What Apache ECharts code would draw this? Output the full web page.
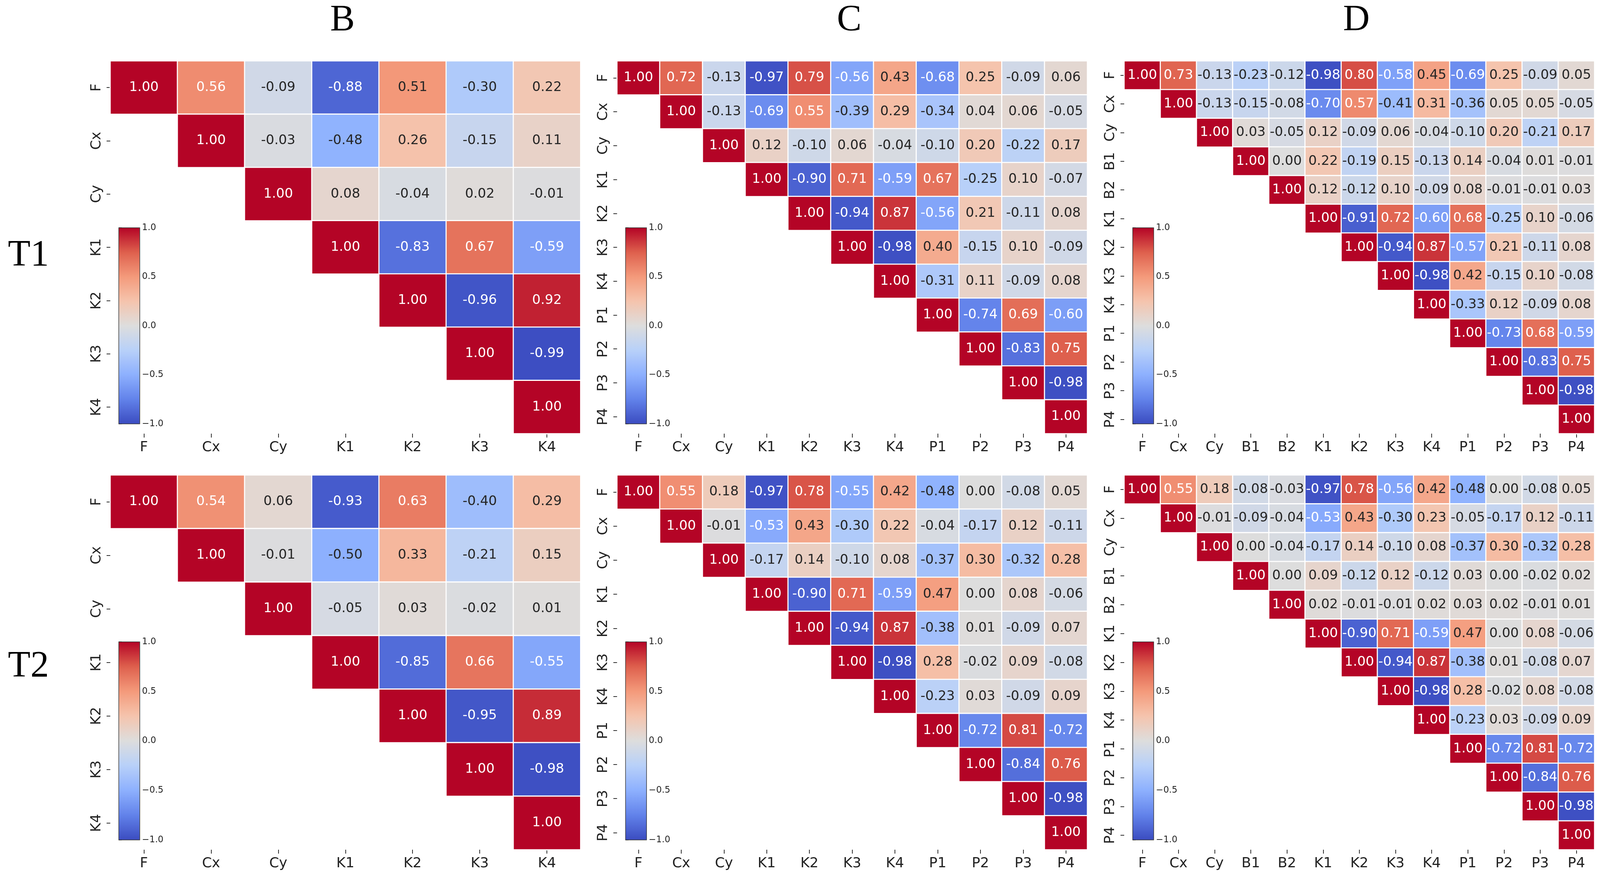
<!DOCTYPE html>
<html><head><meta charset="utf-8">
<script src="https://cdn.jsdelivr.net/npm/echarts@6/dist/echarts.min.js"></script>
<style>html,body{margin:0;padding:0;background:#fff;overflow:hidden}#c{width:100vw;height:100vh}</style>
</head><body><div id="c"></div>
<script>
// ---------- DATA ----------
const labelsB = ['F','Cx','Cy','K1','K2','K3','K4'];
const labelsC = ['F','Cx','Cy','K1','K2','K3','K4','P1','P2','P3','P4'];
const labelsD = ['F','Cx','Cy','B1','B2','K1','K2','K3','K4','P1','P2','P3','P4'];
const panelTitles = ['B','C','D'];
const rowTitles = ['T1','T2'];
const colorbarTicks = [-1, -0.5, 0, 0.5, 1];

// upper-triangle rows: row i holds columns i..n-1
const bT1 = [
  [1.00, 0.56, -0.09, -0.88, 0.51, -0.30, 0.22],
  [1.00, -0.03, -0.48, 0.26, -0.15, 0.11],
  [1.00, 0.08, -0.04, 0.02, -0.01],
  [1.00, -0.83, 0.67, -0.59],
  [1.00, -0.96, 0.92],
  [1.00, -0.99],
  [1.00]
];
const bT2 = [
  [1.00, 0.54, 0.06, -0.93, 0.63, -0.40, 0.29],
  [1.00, -0.01, -0.50, 0.33, -0.21, 0.15],
  [1.00, -0.05, 0.03, -0.02, 0.01],
  [1.00, -0.85, 0.66, -0.55],
  [1.00, -0.95, 0.89],
  [1.00, -0.98],
  [1.00]
];
const cT1 = [
  [1.00, 0.72, -0.13, -0.97, 0.79, -0.56, 0.43, -0.68, 0.25, -0.09, 0.06],
  [1.00, -0.13, -0.69, 0.55, -0.39, 0.29, -0.34, 0.04, 0.06, -0.05],
  [1.00, 0.12, -0.10, 0.06, -0.04, -0.10, 0.20, -0.22, 0.17],
  [1.00, -0.90, 0.71, -0.59, 0.67, -0.25, 0.10, -0.07],
  [1.00, -0.94, 0.87, -0.56, 0.21, -0.11, 0.08],
  [1.00, -0.98, 0.40, -0.15, 0.10, -0.09],
  [1.00, -0.31, 0.11, -0.09, 0.08],
  [1.00, -0.74, 0.69, -0.60],
  [1.00, -0.83, 0.75],
  [1.00, -0.98],
  [1.00]
];
const cT2 = [
  [1.00, 0.55, 0.18, -0.97, 0.78, -0.55, 0.42, -0.48, 0.00, -0.08, 0.05],
  [1.00, -0.01, -0.53, 0.43, -0.30, 0.22, -0.04, -0.17, 0.12, -0.11],
  [1.00, -0.17, 0.14, -0.10, 0.08, -0.37, 0.30, -0.32, 0.28],
  [1.00, -0.90, 0.71, -0.59, 0.47, 0.00, 0.08, -0.06],
  [1.00, -0.94, 0.87, -0.38, 0.01, -0.09, 0.07],
  [1.00, -0.98, 0.28, -0.02, 0.09, -0.08],
  [1.00, -0.23, 0.03, -0.09, 0.09],
  [1.00, -0.72, 0.81, -0.72],
  [1.00, -0.84, 0.76],
  [1.00, -0.98],
  [1.00]
];
const dT1 = [
  [1.00, 0.73, -0.13, -0.23, -0.12, -0.98, 0.80, -0.58, 0.45, -0.69, 0.25, -0.09, 0.05],
  [1.00, -0.13, -0.15, -0.08, -0.70, 0.57, -0.41, 0.31, -0.36, 0.05, 0.05, -0.05],
  [1.00, 0.03, -0.05, 0.12, -0.09, 0.06, -0.04, -0.10, 0.20, -0.21, 0.17],
  [1.00, 0.00, 0.22, -0.19, 0.15, -0.13, 0.14, -0.04, 0.01, -0.01],
  [1.00, 0.12, -0.12, 0.10, -0.09, 0.08, -0.01, -0.01, 0.03],
  [1.00, -0.91, 0.72, -0.60, 0.68, -0.25, 0.10, -0.06],
  [1.00, -0.94, 0.87, -0.57, 0.21, -0.11, 0.08],
  [1.00, -0.98, 0.42, -0.15, 0.10, -0.08],
  [1.00, -0.33, 0.12, -0.09, 0.08],
  [1.00, -0.73, 0.68, -0.59],
  [1.00, -0.83, 0.75],
  [1.00, -0.98],
  [1.00]
];
const dT2 = [
  [1.00, 0.55, 0.18, -0.08, -0.03, -0.97, 0.78, -0.56, 0.42, -0.48, 0.00, -0.08, 0.05],
  [1.00, -0.01, -0.09, -0.04, -0.53, 0.43, -0.30, 0.23, -0.05, -0.17, 0.12, -0.11],
  [1.00, 0.00, -0.04, -0.17, 0.14, -0.10, 0.08, -0.37, 0.30, -0.32, 0.28],
  [1.00, 0.00, 0.09, -0.12, 0.12, -0.12, 0.03, 0.00, -0.02, 0.02],
  [1.00, 0.02, -0.01, -0.01, 0.02, 0.03, 0.02, -0.01, 0.01],
  [1.00, -0.90, 0.71, -0.59, 0.47, 0.00, 0.08, -0.06],
  [1.00, -0.94, 0.87, -0.38, 0.01, -0.08, 0.07],
  [1.00, -0.98, 0.28, -0.02, 0.08, -0.08],
  [1.00, -0.23, 0.03, -0.09, 0.09],
  [1.00, -0.72, 0.81, -0.72],
  [1.00, -0.84, 0.76],
  [1.00, -0.98],
  [1.00]
];

// ---------- LAYOUT / STYLE ----------
const el = document.getElementById('c');
const SX = (el.clientWidth || window.innerWidth) / 4338;
const SY = (el.clientHeight || window.innerHeight) / 2250;
const SF = Math.min(SX, SY);
const px = v => v * SX;   // horizontal
const py = v => v * SY;   // vertical
const pf = v => v * SF;   // font sizes, line widths
const coolwarm = ['#3b4cc0','#6282ea','#8db0fe','#b8d0f9','#dddddd','#f5c4ad','#f49a7b','#de604d','#b40426'];
const colLeft = [299, 1673, 3048];
const colWidth = 1275;
const rowTop = [156, 1216];
const rowHeight = [954, 959];
const panelMatrix = [[bT1, cT1, dT1],[bT2, cT2, dT2]];
const panelLabels = [labelsB, labelsC, labelsD];
const SANS = 'DejaVu Sans';
const SERIF = 'Liberation Serif';
const TXT = '#222222';

const grid = [], xAxis = [], yAxis = [], series = [], visualMap = [], graphic = [];

let gi = 0, si = 0;
for (let r = 0; r < 2; r++) {
  for (let c = 0; c < 3; c++) {
    const labels = panelLabels[c];
    const rows = panelMatrix[r][c];
    const L = colLeft[c], T = rowTop[r], W = colWidth, H = rowHeight[r];
    const cbH = r === 0 ? 502 : 507;
    // heatmap grid
    grid.push({left: px(L), top: py(T), width: px(W), height: py(H)});
    xAxis.push({type: 'category', gridIndex: gi, data: labels, position: 'bottom',
      axisLine: {show: false}, splitLine: {show: false},
      axisTick: {show: true, alignWithLabel: true, length: py(10), lineStyle: {color: TXT, width: pf(2)}},
      axisLabel: {fontSize: pf(38), fontFamily: SANS, color: TXT, margin: py(18)}});
    yAxis.push({type: 'category', gridIndex: gi, data: labels, inverse: true,
      axisLine: {show: false}, splitLine: {show: false},
      axisTick: {show: true, alignWithLabel: true, length: px(10), lineStyle: {color: TXT, width: pf(2)}},
      axisLabel: {fontSize: pf(38), fontFamily: SANS, color: TXT, margin: px(18), rotate: 90}});
    const data = [];
    rows.forEach((row, i) => row.forEach((v, k) => {
      const j = i + k;
      data.push({value: [j, i, v], label: {color: Math.abs(v) >= 0.52 ? '#ffffff' : '#262626'}});
    }));
    series.push({type: 'heatmap', xAxisIndex: gi, yAxisIndex: gi, data: data,
      itemStyle: {borderColor: '#ffffff', borderWidth: pf(3)},
      label: {show: true, fontSize: pf(36), fontFamily: SANS, formatter: p => p.value[2].toFixed(2)},
      emphasis: {disabled: true}, silent: true});
    visualMap.push({type: 'continuous', seriesIndex: si, min: -1, max: 1, calculable: false,
      hoverLink: false, orient: 'vertical', left: px(L + 23), top: py(T + 427), itemWidth: px(57),
      itemHeight: py(cbH), padding: 0, inRange: {color: coolwarm}, text: null});
    gi++;
    // colorbar tick axis
    grid.push({left: px(L + 23), top: py(T + 427), width: px(57), height: py(cbH),
      show: true, borderColor: '#333', borderWidth: pf(1.5), backgroundColor: 'transparent', z: 10});
    xAxis.push({type: 'value', gridIndex: gi, show: false, min: 0, max: 1});
    yAxis.push({type: 'value', gridIndex: gi, min: colorbarTicks[0], max: colorbarTicks[colorbarTicks.length-1],
      interval: 0.5, position: 'right', axisLine: {show: false}, splitLine: {show: false},
      axisTick: {show: true, length: px(8), lineStyle: {color: TXT, width: pf(2)}},
      axisLabel: {fontSize: pf(24), fontFamily: SANS, color: TXT, margin: px(6),
        formatter: v => (v < 0 ? '\u2212' + Math.abs(v).toFixed(1) : v.toFixed(1))}});
    gi++;
    si++;
  }
}
for (let c = 0; c < 3; c++) {
  graphic.push({type: 'text', x: px(colLeft[c] + colWidth / 2 - 8), y: py(53),
    style: {text: panelTitles[c], font: pf(100) + 'px ' + SERIF, fill: '#000', textAlign: 'center', textVerticalAlign: 'middle'}});
}
for (let r = 0; r < 2; r++) {
  graphic.push({type: 'text', x: px(77), y: py(r === 0 ? 655 : 1707),
    style: {text: rowTitles[r], font: pf(100) + 'px ' + SERIF, fill: '#000', textAlign: 'center', textVerticalAlign: 'middle'}});
}

const chart = echarts.init(el, null, {renderer: 'canvas'});
chart.setOption({backgroundColor: '#ffffff', animation: false,
  grid, xAxis, yAxis, series, visualMap, graphic});
</script></body></html>
